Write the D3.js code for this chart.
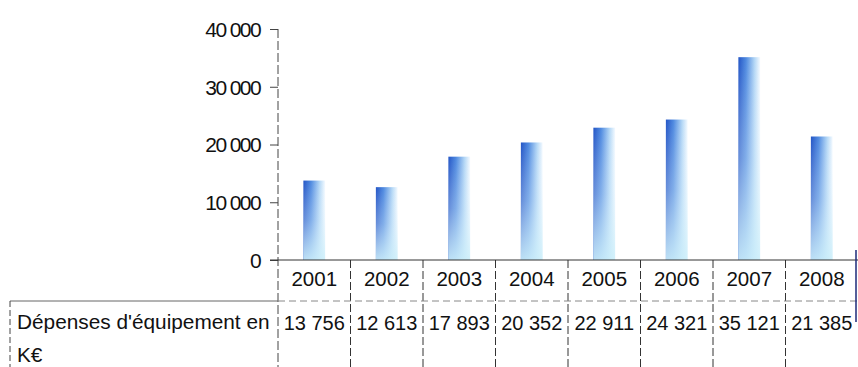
<!DOCTYPE html>
<html>
<head>
<meta charset="utf-8">
<script src="https://cdn.jsdelivr.net/npm/d3@7"></script>
<style>
  html, body { margin: 0; padding: 0; background: #fff; }
  svg { display: block; }
  text { font-family: Arial, "Liberation Sans", sans-serif; fill: #111; }
</style>
</head>
<body>
<svg id="chart" width="858" height="367"></svg>
<script>
// Dépenses d'équipement (K€) par année
const years = ["2001", "2002", "2003", "2004", "2005", "2006", "2007", "2008"];
const spending = [13756, 12613, 17893, 20352, 22911, 24321, 35121, 21385];
const yTicks = [0, 10000, 20000, 30000, 40000];
const rowLabel = ["Dépenses d'équipement en", "K€"];

const svg = d3.select("#chart");
const W = 858, H = 367;
const plotLeft = 278, plotRight = 858, plotTop = 29, baseY = 260;
const rowTop = 301, tableLeft = 10;

const x = d3.scaleBand().domain(years).range([plotLeft, plotRight]).paddingInner(0).paddingOuter(0);
const y = d3.scaleLinear().domain([0, 40000]).range([baseY, plotTop]);

const fmt = v => d3.format(",")(v).replace(/,/g, " ");

// gradients for the bars
const defs = svg.append("defs");
const gh = defs.append("linearGradient").attr("id", "barH").attr("x1", 0).attr("x2", 1).attr("y1", 0).attr("y2", 0);
gh.append("stop").attr("offset", "0%").attr("stop-color", "#2355c6");
gh.append("stop").attr("offset", "35%").attr("stop-color", "#4f8ae0");
gh.append("stop").attr("offset", "75%").attr("stop-color", "#b5d8f6");
gh.append("stop").attr("offset", "100%").attr("stop-color", "#f4faff");
const gv = defs.append("linearGradient").attr("id", "barV").attr("x1", 0).attr("x2", 0).attr("y1", 0).attr("y2", 1);
gv.append("stop").attr("offset", "0%").attr("stop-color", "#ffffff").attr("stop-opacity", 0);
gv.append("stop").attr("offset", "50%").attr("stop-color", "#e0f3fc").attr("stop-opacity", 0.35);
gv.append("stop").attr("offset", "100%").attr("stop-color", "#cdeffa").attr("stop-opacity", 0.9);

// bars
const barW = x.bandwidth() * 0.3;
const bars = svg.append("g");
const data = years.map((yr, i) => ({ yr, v: spending[i] }));
bars.selectAll("rect.b").data(data).join("rect")
  .attr("class", "b")
  .attr("x", d => x(d.yr) + (x.bandwidth() - barW) / 2)
  .attr("y", d => y(d.v))
  .attr("width", barW)
  .attr("height", d => baseY - y(d.v))
  .attr("fill", "url(#barH)");
bars.selectAll("rect.o").data(data).join("rect")
  .attr("class", "o")
  .attr("x", d => x(d.yr) + (x.bandwidth() - barW) / 2)
  .attr("y", d => y(d.v))
  .attr("width", barW)
  .attr("height", d => baseY - y(d.v))
  .attr("fill", "url(#barV)");

// y axis
const yAxis = d3.axisLeft(y).tickValues(yTicks).tickSize(8).tickPadding(10).tickFormat(fmt);
const ya = svg.append("g").attr("transform", `translate(${plotLeft},0)`).call(yAxis);
ya.select(".domain").remove();
ya.selectAll(".tick line").attr("stroke", "#444");
ya.selectAll(".tick text")
  .attr("font-size", 21)
  .attr("letter-spacing", "-1.6")
  .attr("fill", "#111")
  .attr("dy", "0.35em");
svg.append("line")
  .attr("x1", plotLeft).attr("x2", plotLeft)
  .attr("y1", plotTop).attr("y2", H)
  .attr("stroke", "#444").attr("stroke-dasharray", "9,3");

// baseline
svg.append("line")
  .attr("x1", plotLeft - 8).attr("x2", plotRight)
  .attr("y1", baseY).attr("y2", baseY)
  .attr("stroke", "#333").attr("stroke-width", 1);

// table grid
const grid = svg.append("g");
grid.selectAll("line.v").data(years.slice(1)).join("line")
  .attr("class", "v")
  .attr("x1", d => x(d)).attr("x2", d => x(d))
  .attr("y1", baseY).attr("y2", H)
  .attr("stroke", "#333").attr("stroke-dasharray", "8,3");
grid.append("line")
  .attr("x1", tableLeft).attr("x2", plotLeft)
  .attr("y1", rowTop).attr("y2", rowTop)
  .attr("stroke", "#666");
grid.append("line")
  .attr("x1", plotLeft).attr("x2", plotRight)
  .attr("y1", rowTop).attr("y2", rowTop)
  .attr("stroke", "#888").attr("stroke-dasharray", "7,4");
grid.append("line")
  .attr("x1", tableLeft).attr("x2", tableLeft)
  .attr("y1", rowTop).attr("y2", H)
  .attr("stroke", "#444").attr("stroke-dasharray", "6,3");
grid.append("line")
  .attr("x1", plotRight - 2).attr("x2", plotRight - 2)
  .attr("y1", baseY - 10).attr("y2", 322)
  .attr("stroke", "#1c2a78").attr("stroke-width", 1.5);

// year row
svg.append("g").selectAll("text").data(years).join("text")
  .attr("x", d => x(d) + x.bandwidth() / 2)
  .attr("y", 286)
  .attr("text-anchor", "middle")
  .attr("font-size", 20.5)
  .text(d => d);

// value row
svg.append("g").selectAll("text").data(data).join("text")
  .attr("x", d => x(d.yr) + x.bandwidth() / 2)
  .attr("y", 330)
  .attr("text-anchor", "middle")
  .attr("font-size", 20)
  .text(d => fmt(d.v));

// row label
svg.append("g").selectAll("text").data(rowLabel).join("text")
  .attr("x", 17)
  .attr("y", (d, i) => 329 + i * 33)
  .attr("font-size", 20.8)
  .text(d => d);
</script>
</body>
</html>
